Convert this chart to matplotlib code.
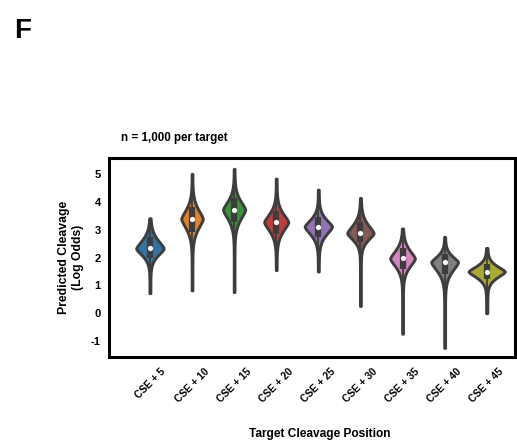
import matplotlib
matplotlib.use('Agg')
import numpy as np
import matplotlib.pyplot as plt

plt.rcParams['font.family'] = ['Liberation Sans', 'DejaVu Sans']
plt.rcParams['font.weight'] = 'bold'
plt.rcParams['axes.unicode_minus'] = False

# 数据：每个靶点的预测切割值分布（从图中读取的概要统计）
targets = ['CSE + 5', 'CSE + 10', 'CSE + 15', 'CSE + 20', 'CSE + 25',
           'CSE + 30', 'CSE + 35', 'CSE + 40', 'CSE + 45']
lows    = [0.72, 0.82, 0.76, 1.55, 1.50, 0.26, -0.74, -1.25, 0.00]
q1s     = [2.00, 2.94, 3.28, 2.86, 2.74, 2.56, 1.58, 1.42, 1.22]
medians = [2.33, 3.40, 3.73, 3.28, 3.12, 2.88, 1.97, 1.84, 1.50]
q3s     = [2.73, 3.84, 4.14, 3.68, 3.46, 3.28, 2.36, 2.12, 1.76]
highs   = [3.42, 5.02, 5.20, 4.85, 4.45, 4.15, 3.05, 2.75, 2.35]

colors = ['#3274A1', '#E1812C', '#3A923A', '#C03D3E', '#9372B2',
          '#845B53', '#D684BD', '#7F7F7F', '#A9AA35']
edge = '#3d3d3d'


def profile(lo, q1, med, q3, hi):
    # 由分位数构造的小提琴轮廓：菱形主体 + 细尾
    y = np.linspace(lo, hi, 400)
    b = np.where(y < med, (med - q1) * 1.1, (q3 - med) * 1.1)
    u = np.abs(y - med) / b
    d = np.exp(-u ** 1.5) + 0.035
    d = d / np.trapezoid(d, y)
    return y, d


stats = []
peaks = []
for lo, q1, med, q3, hi in zip(lows, q1s, medians, q3s, highs):
    y, d = profile(lo, q1, med, q3, hi)
    stats.append(dict(coords=y, vals=d, mean=med, median=med, min=lo, max=hi))
    peaks.append(d.max())
peaks = np.array(peaks)
widths = 0.86 * peaks / peaks.max()

fig = plt.figure(figsize=(5.17, 4.43), dpi=100)
ax = fig.add_axes([0.211, 0.194, 0.785, 0.450])

pos = np.arange(len(targets))
parts = ax.violin(stats, positions=pos, widths=widths,
                  showmeans=False, showmedians=False, showextrema=False)
for body, c in zip(parts['bodies'], colors):
    body.set_facecolor(c)
    body.set_edgecolor(edge)
    body.set_linewidth(2.1)
    body.set_joinstyle('round')
    body.set_alpha(1)

# 内部箱线
for i in pos:
    iqr = q3s[i] - q1s[i]
    wlo = max(lows[i], q1s[i] - 1.5 * iqr)
    whi = min(highs[i], q3s[i] + 1.5 * iqr)
    ax.vlines(i, wlo, whi, color=edge, lw=1.3, zorder=3)
    ax.vlines(i, q1s[i], q3s[i], color=edge, lw=4.5, zorder=3)
ax.scatter(pos, medians, s=14, color='white', zorder=4, linewidths=0)

ax.set_xlim(-0.97, 8.67)
ax.set_ylim(-1.58, 5.6)
ax.set_yticks([-1, 0, 1, 2, 3, 4, 5])
ax.set_xticks(pos)
ax.set_xticklabels(targets, rotation=45, fontsize=7.3, fontweight='bold')
ax.tick_params(axis='y', length=0, labelsize=8, pad=6)
ax.tick_params(axis='x', length=0, pad=7)
for sp in ax.spines.values():
    sp.set_linewidth(2.2)
    sp.set_color('black')

ax.set_ylabel('Predicted Cleavage\n(Log Odds)', fontsize=8.8, fontweight='bold', labelpad=5)
ax.set_xlabel('Target Cleavage Position', fontsize=8.6, fontweight='bold', labelpad=17)
ax.xaxis.label.set_x(0.52)
ax.text(0.03, 1.099, 'n = 1,000 per target', transform=ax.transAxes,
        fontsize=8.4, fontweight='bold', va='center')
fig.text(0.027, 0.915, 'F', fontsize=20, fontweight='bold')

fig.savefig('out.png', dpi=100)
